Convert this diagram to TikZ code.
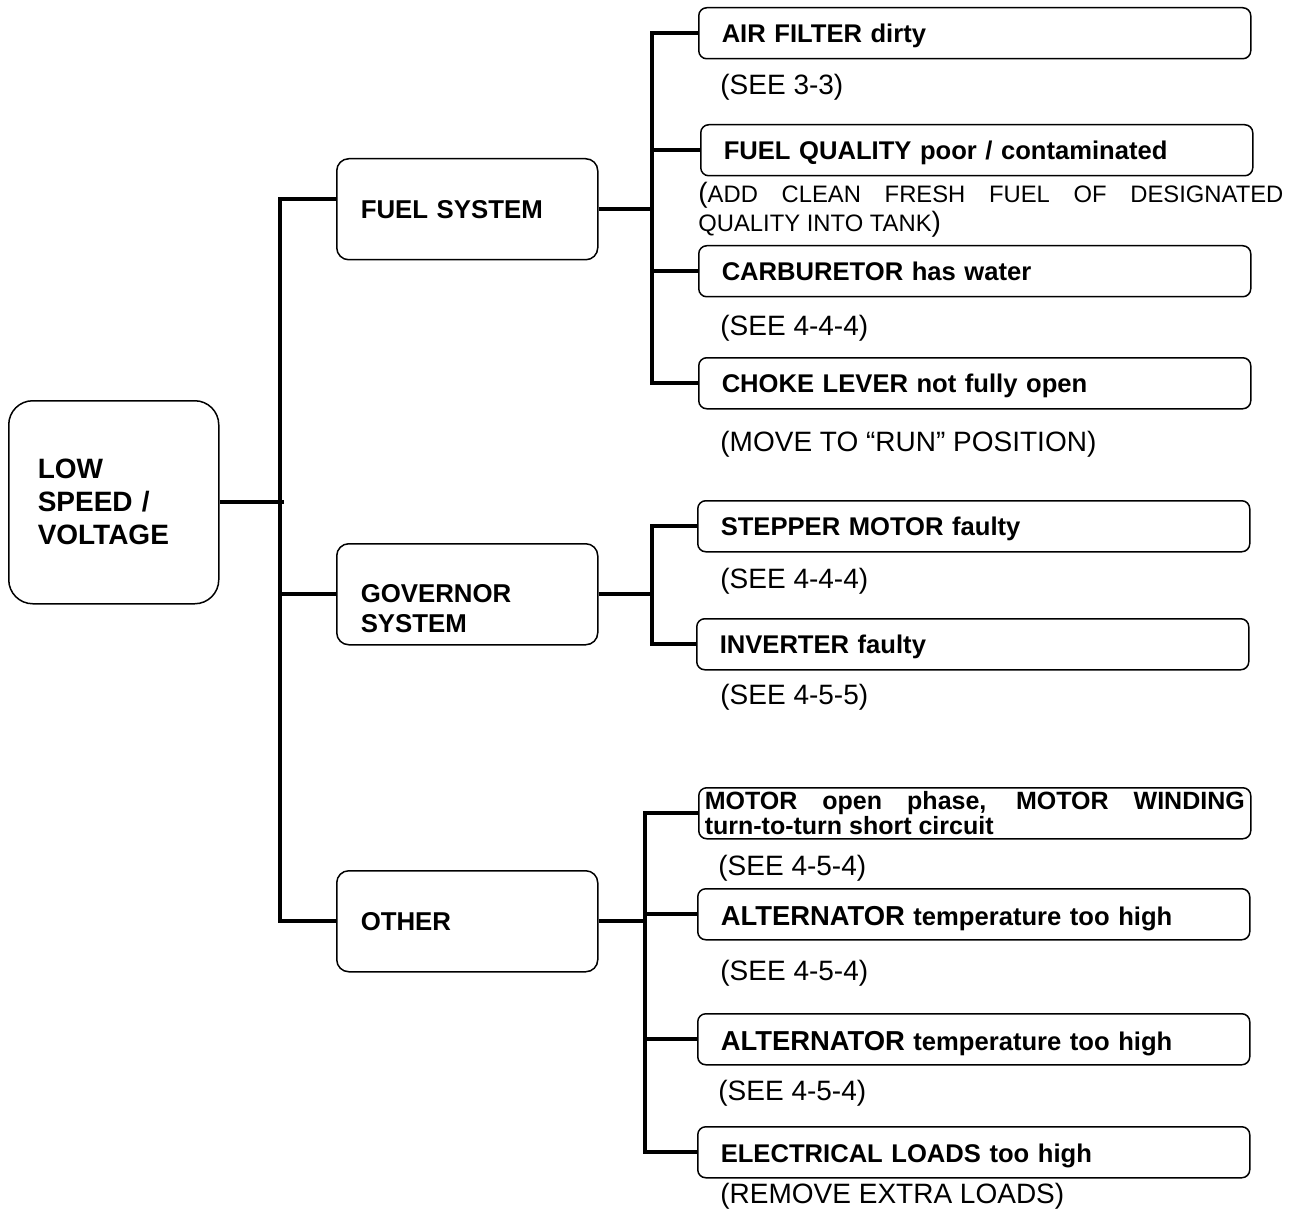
\documentclass[tikz,border=0pt]{standalone}
\usepackage{fontspec}
\setmainfont{Liberation Sans}
\usetikzlibrary{positioning,calc}

\begin{document}
\begin{tikzpicture}[x=0.5pt, y=-0.5pt, bar/.style={line width=2.2pt}]
   \useasboundingbox (0,0) rectangle (1293,1219);
   % bus lines (x only)
   \coordinate (trunk) at (280,0);
   \coordinate (fuelbus) at (652,0);
   \coordinate (govbus) at (652,0);
   \coordinate (otherbus) at (645,0);

   \node (root) [draw, line width=0.75pt, rounded corners=12pt, anchor=north west, text width=76pt, inner xsep=14.5pt, minimum height=101.5pt, align=left, font=\fontsize{14}{16.5}\selectfont\bfseries] at (8,400) {LOW\\SPEED /\\VOLTAGE};

   \begin{scope}[every node/.style={draw, line width=0.75pt, rounded corners=6pt, anchor=north west, text width=106.5pt, inner xsep=12pt, minimum height=50.5pt, align=left, font=\fontsize{12.9}{15}\selectfont\bfseries}]
    \node (fuel) at (336,158) {FUEL SYSTEM};
    \node (gov) at (336,543) {\mbox{}\\[8pt]GOVERNOR\\SYSTEM};
    \node (other) at (336,870) {OTHER};
   \end{scope}

   \begin{scope}[every node/.style={draw, line width=0.75pt, rounded corners=4pt, anchor=north west, text width=253pt, inner xsep=11.5pt, inner ysep=1pt, minimum height=25.5pt, text height=11.5pt, text depth=2.5pt, align=left, font=\fontsize{12.8}{15}\selectfont\bfseries}]
    \node (air) at (698,7) {AIR FILTER dirty};
    \node (qual) at (700,124) {FUEL QUALITY poor / contaminated};
    \node (carb) at (698,245) {CARBURETOR has water};
    \node (choke) at (698,357) {CHOKE LEVER not fully open};
    \node (stepper) at (697,500) {STEPPER MOTOR faulty};
    \node (inv) at (696,618) {INVERTER faulty};
    \node (motor) [text width=270pt, inner xsep=3pt, text height={}, text depth={}, align=justify, font=\fontsize{12.5}{10.5}\selectfont\bfseries] at (698,787) {MOTOR open phase, MOTOR WINDING\linebreak turn-to-turn short circuit};
    \node (alt1) [text height=14pt] at (697,888) {{\fontsize{13.7}{15}\selectfont ALTERNATOR} temperature too high};
    \node (alt2) [text height=14pt] at (697,1013) {{\fontsize{13.7}{15}\selectfont ALTERNATOR} temperature too high};
    \node (load) [text height=13pt] at (697,1126) {ELECTRICAL LOADS too high};
   \end{scope}

   \begin{scope}[every node/.style={anchor=west, inner sep=0pt, font=\fontsize{14}{16}\selectfont}]
    \node (n1) at (720,87) {(SEE 3-3)};
    \node (n2) [text width=292.5pt, align=justify, font=\fontsize{11.9}{14.5}\selectfont] at (698,210) {{\fontsize{14}{14.5}\selectfont(}ADD CLEAN FRESH FUEL OF DESIGNATED\linebreak QUALITY INTO TANK{\fontsize{14}{14.5}\selectfont)}};
    \node (n3) at (720,328) {(SEE 4-4-4)};
    \node (n4) at (720,444) {(MOVE TO “RUN” POSITION)};
    \node (n5) at (720,581) {(SEE 4-4-4)};
    \node (n6) at (720,697) {(SEE 4-5-5)};
    \node (n7) at (718,868) {(SEE 4-5-4)};
    \node (n8) at (720,973) {(SEE 4-5-4)};
    \node (n9) at (718,1093) {(SEE 4-5-4)};
    \node (n10) at (720,1196) {(REMOVE EXTRA LOADS)};
   \end{scope}

   % connectors
   \draw[bar] (root.east) -- ([xshift=2pt]root.east -| trunk);
   \draw[bar] ([yshift=5pt]fuel.west) -| (trunk |- other.west) -- (other.west);
   \draw[bar] (trunk |- gov.west) -- (gov.west);

   \draw[bar] (fuel.east) -- (fuel.east -| fuelbus);
   \draw[bar] (air.west) -| (fuelbus |- choke.west) -- (choke.west);
   \foreach \b in {qual,carb} \draw[bar] (fuelbus |- \b.west) -- (\b.west);

   \draw[bar] (gov.east) -- (gov.east -| govbus);
   \draw[bar] (stepper.west) -| (govbus |- inv.west) -- (inv.west);

   \draw[bar] (other.east) -- (other.east -| otherbus);
   \draw[bar] (motor.west) -| (otherbus |- load.west) -- (load.west);
   \foreach \b in {alt1,alt2} \draw[bar] (otherbus |- \b.west) -- (\b.west);
\end{tikzpicture}
\end{document}
